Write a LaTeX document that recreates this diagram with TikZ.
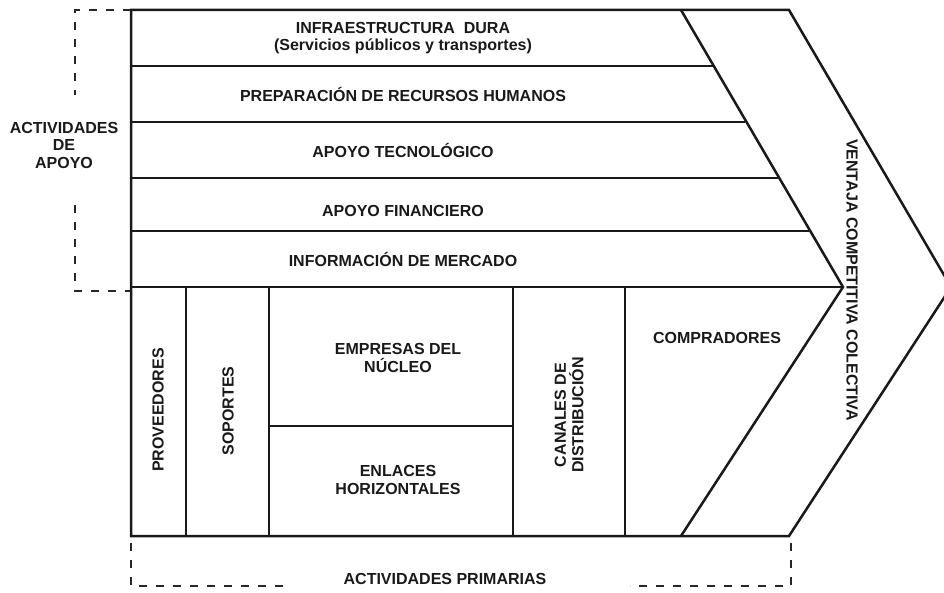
\documentclass[tikz,border=0pt]{standalone}
\usepackage{fontspec}
\setmainfont{Liberation Sans}

\begin{document}
\begin{tikzpicture}[x=1pt,y=-1pt,
thickline/.style={line width=2.5pt,black!90},
thinline/.style={line width=1.5pt,black!90},
bracket/.style={line width=1.6pt,black!85,dash pattern=on 8pt off 9pt},
lbl/.style={font=\fontsize{16}{17.5}\selectfont\bfseries,align=center,inner sep=0pt,text=black!90}]

\clip (0,0) rectangle (944,593);

% chevron
\draw[thickline] (131,10)--(789,10)--(951,287)--(789,536)--(131,536)--cycle;
\draw[thickline] (681,10)--(843,287)--(681,536);

% actividades de apoyo
\draw[thickline] (131,66)--(713,66);
\draw[thinline] (131,122)--(745,122);
\draw[thinline] (131,178)--(778,178);
\draw[thickline] (131,231)--(809,231);
\draw[thickline] (131,287)--(843,287);

% actividades primarias
\draw[thickline] (186,287)--(186,536);
\draw[thickline] (269,287)--(269,536);
\draw[thinline] (513,287)--(513,536);
\draw[thinline] (625,287)--(625,536);
\draw[thickline] (269,426)--(513,426);

% brackets
\draw[bracket] (131,10)--(75,10)--(75,95);
\draw[bracket] (75,205)--(75,291)--(131,291);
\draw[bracket] (131,543)--(131,586)--(290,586);
\draw[bracket] (791,543)--(791,586)--(630,586);

\node (infra) [lbl] at (403,38) {INFRAESTRUCTURA\ \ DURA\\(Servicios públicos y transportes)};
\node (rrhh) [lbl] at (403,94) {PREPARACIÓN DE RECURSOS HUMANOS};
\node (tecno) [lbl] at (403,150) {APOYO TECNOLÓGICO};
\node (finan) [lbl] at (403,211) {APOYO FINANCIERO};
\node (merca) [lbl] at (403,259) {INFORMACIÓN DE MERCADO};

\node (prove) [lbl,rotate=90] at (158,410) {PROVEEDORES};
\node (sopor) [lbl,rotate=90] at (228,411) {SOPORTES};
\node (nucleo) [lbl] at (398,358) {EMPRESAS DEL\\NÚCLEO};
\node (enlaces) [lbl] at (398,480) {ENLACES\\HORIZONTALES};
\node (canales) [lbl,rotate=90] at (569,415) {CANALES DE\\DISTRIBUCIÓN};
\node (compra) [lbl] at (717,338) {COMPRADORES};
\node (ventaja) [lbl,rotate=-90] at (852,280) {VENTAJA COMPETITIVA COLECTIVA};

\node (apoyo) [lbl] at (64,145) {ACTIVIDADES\\DE\\APOYO};
\node (primarias) [lbl] at (445,579) {ACTIVIDADES PRIMARIAS};

\end{tikzpicture}
\end{document}
